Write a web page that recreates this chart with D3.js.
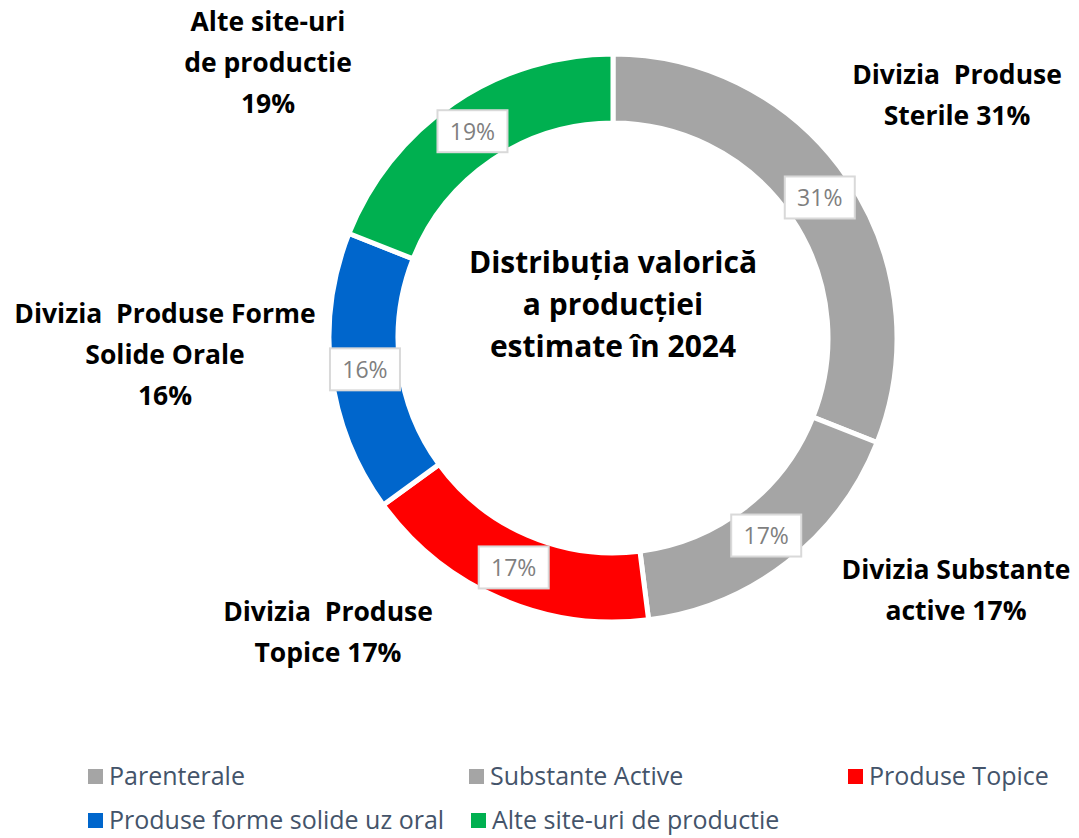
<!DOCTYPE html>
<html>
<head>
<meta charset="utf-8">
<script src="https://cdn.jsdelivr.net/npm/d3@7"></script>
<style>
  body { margin: 0; background: #fff; }
  svg text { font-family: "Open Sans", Lato, sans-serif; }
</style>
</head>
<body>
<div id="chart"></div>
<script>
// slices, clockwise from 12 o'clock
var categories = ["Parenterale", "Substante Active", "Produse Topice", "Produse forme solide uz oral", "Alte site-uri de productie"];
var values = [31, 17, 17, 16, 19];
var colors = ["#a5a5a5", "#a5a5a5", "#ff0000", "#0066cc", "#00b050"];
var outsideLabels = [
  ["Divizia  Produse", "Sterile 31%"],
  ["Divizia Substante", "active 17%"],
  ["Divizia  Produse", "Topice 17%"],
  ["Divizia  Produse Forme", "Solide Orale", "16%"],
  ["Alte site-uri", "de productie", "19%"]
];
var titleLines = ["Distribuția valorică", "a producției", "estimate în 2024"];

var width = 1079, height = 838;
var cx = 613, cy = 338, outerR = 284, innerR = 215;

var svg = d3.select("#chart").append("svg")
  .attr("width", width)
  .attr("height", height);

var pie = d3.pie().sort(null).value(function(d) { return d; });
var arcs = pie(values);

var arc = d3.arc().innerRadius(innerR).outerRadius(outerR);
var midArc = d3.arc().innerRadius(250).outerRadius(250);

var g = svg.append("g").attr("transform", "translate(" + cx + "," + cy + ")");

g.selectAll("path.slice")
  .data(arcs)
  .enter().append("path")
  .attr("class", "slice")
  .attr("d", arc)
  .attr("fill", function(d, i) { return colors[i]; })
  .attr("stroke", "#fff")
  .attr("stroke-width", 5);

// percentage boxes on the ring
var lbl = g.selectAll("g.pct")
  .data(arcs)
  .enter().append("g")
  .attr("class", "pct")
  .attr("transform", function(d) { return "translate(" + midArc.centroid(d) + ")"; });

lbl.append("rect")
  .attr("x", -35).attr("y", -21)
  .attr("width", 70).attr("height", 42)
  .attr("fill", "#fff")
  .attr("stroke", "#d9d9d9")
  .attr("stroke-width", 2);

lbl.append("text")
  .attr("text-anchor", "middle")
  .attr("dy", "0.36em")
  .attr("font-size", 23)
  .attr("fill", "#7f7f7f")
  .text(function(d) { return d.value + "%"; });

// center title
svg.append("g").selectAll("text")
  .data(titleLines)
  .enter().append("text")
  .attr("x", cx)
  .attr("y", function(d, i) { return 273 + i * 42; })
  .attr("text-anchor", "middle")
  .attr("font-size", 30)
  .attr("font-weight", "bold")
  .attr("fill", "#000")
  .text(function(d) { return d; });

// outside category labels
var outPos = [[957, 84], [956, 579], [328, 621], [165, 323], [268, 31]];
outsideLabels.forEach(function(lines, i) {
  svg.append("g").selectAll("text")
    .data(lines)
    .enter().append("text")
    .attr("x", outPos[i][0])
    .attr("y", function(d, j) { return outPos[i][1] + j * 41; })
    .attr("text-anchor", "middle")
    .attr("font-size", 26.5)
    .attr("font-weight", "bold")
    .attr("fill", "#000")
    .style("white-space", "pre")
    .text(function(d) { return d; });
});

// legend
var legendPos = [[88, 776], [469, 776], [848, 776], [88, 820], [471, 820]];
var leg = svg.append("g").selectAll("g")
  .data(categories)
  .enter().append("g")
  .attr("transform", function(d, i) { return "translate(" + legendPos[i][0] + "," + legendPos[i][1] + ")"; });

leg.append("rect")
  .attr("x", 0).attr("y", -7)
  .attr("width", 15).attr("height", 15)
  .attr("fill", function(d, i) { return colors[i]; });

leg.append("text")
  .attr("x", 21)
  .attr("dy", "0.36em")
  .attr("font-size", 25)
  .attr("fill", "#44546a")
  .text(function(d) { return d; });
</script>
</body>
</html>
